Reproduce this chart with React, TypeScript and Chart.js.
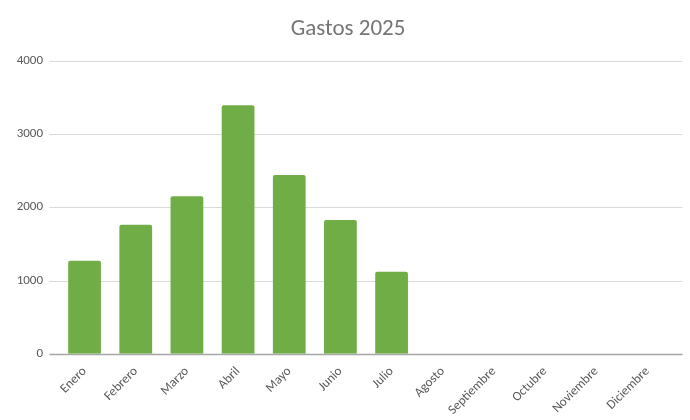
import React, { useEffect, useRef } from "react";
import { Chart, registerables } from "chart.js";

Chart.register(...registerables);

const categories = ["Enero", "Febrero", "Marzo", "Abril", "Mayo", "Junio", "Julio", "Agosto", "Septiembre", "Octubre", "Noviembre", "Diciembre"];
const gastos = [1270, 1760, 2150, 3390, 2440, 1825, 1120, null, null, null, null, null];
const yTicks = [0, 1000, 2000, 3000, 4000];

const FONT = "Carlito, Lato, 'Open Sans', sans-serif";
const GRID_EXTEND = 9.5;

// Draws the horizontal gridlines (and the zero axis line) slightly wider than the
// category area, as in spreadsheet-style charts.
const gridPlugin = {
  id: "extendedGrid",
  beforeDatasetsDraw(chart: any) {
    const { ctx, chartArea, scales } = chart;
    const y = scales.y;
    ctx.save();
    yTicks.forEach((v) => {
      const py = Math.round(y.getPixelForValue(v)) + 0.5;
      ctx.beginPath();
      ctx.strokeStyle = v === 0 ? "#a6a6a6" : "#d9d9d9";
      ctx.lineWidth = v === 0 ? 1.6 : 1;
      ctx.moveTo(chartArea.left - GRID_EXTEND, py);
      ctx.lineTo(chartArea.right + GRID_EXTEND, py);
      ctx.stroke();
    });
    ctx.restore();
  },
};

export default function App() {
  const ref = useRef<HTMLCanvasElement | null>(null);
  useEffect(() => {
    document.body.style.margin = "0";
    if (!ref.current) return;
    const chart = new Chart(ref.current, {
      type: "bar",
      data: {
        labels: categories,
        datasets: [
          {
            label: "Gastos",
            data: gastos,
            backgroundColor: "#70ad47",
            borderWidth: 0,
            borderRadius: 2,
            borderSkipped: "bottom",
            barPercentage: 0.64,
            categoryPercentage: 1,
          },
        ],
      },
      options: {
        responsive: false,
        animation: false,
        devicePixelRatio: 1,
        layout: { padding: { left: 14, right: 8, top: 11, bottom: 0 } },
        plugins: {
          legend: { display: false },
          tooltip: { enabled: false },
          title: {
            display: true,
            text: "Gastos 2025",
            color: "#757575",
            font: { family: FONT, size: 23, weight: "normal" },
            padding: { top: 4, bottom: 18 },
          },
        },
        scales: {
          x: {
            grid: { display: false },
            border: { display: false },
            afterFit: (scale: any) => {
              scale.paddingLeft = 0;
              scale.paddingRight = 17;
            },
            ticks: {
              color: "#595959",
              font: { family: FONT, size: 13 },
              maxRotation: 45,
              minRotation: 45,
              autoSkip: false,
              padding: 2,
            },
          },
          y: {
            min: 0,
            max: 4000,
            afterBuildTicks: (axis: any) => {
              axis.ticks = yTicks.map((v) => ({ value: v }));
            },
            afterFit: (scale: any) => {
              scale.width = 45;
            },
            grid: { display: false, drawTicks: false },
            border: { display: false },
            ticks: {
              color: "#595959",
              font: { family: FONT, size: 13 },
              padding: 16,
              callback: (v: any) => String(v),
            },
          },
        },
      },
      plugins: [gridPlugin],
    });
    return () => chart.destroy();
  }, []);
  return (
    <div style={{ width: 690, height: 420, background: "#fff" }}>
      <canvas ref={ref} width={690} height={420} />
    </div>
  );
}
